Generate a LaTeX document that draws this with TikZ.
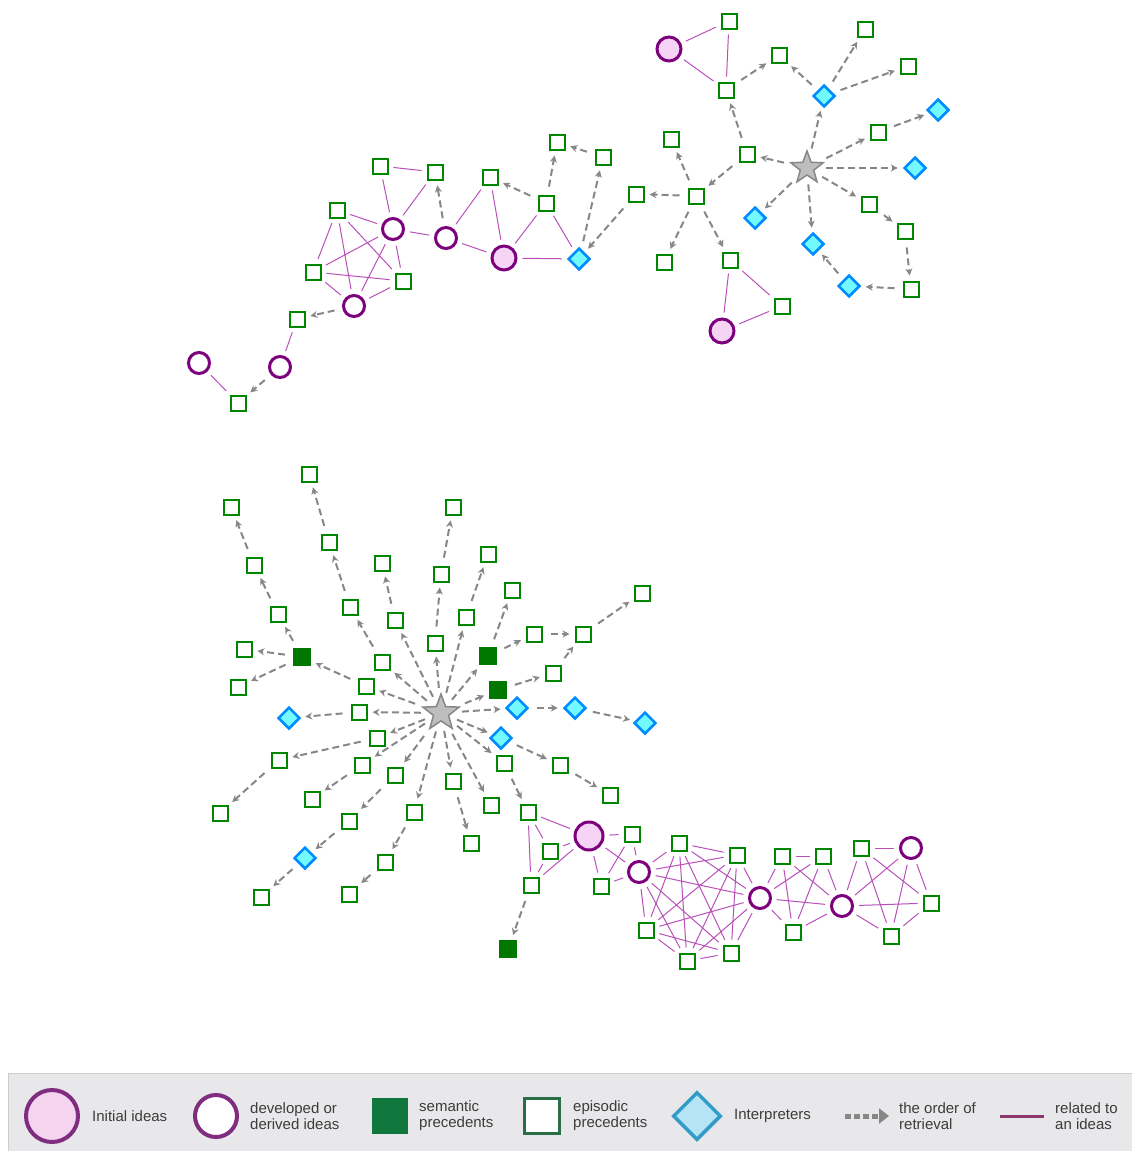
\documentclass[tikz,border=0pt]{standalone}
\usepackage{fontspec}
\setmainfont{Liberation Sans}
\usetikzlibrary{arrows.meta, shapes.geometric}

\definecolor{epigreen}{RGB}{0,135,0}
\definecolor{semgreen}{RGB}{0,120,0}
\definecolor{ideapurple}{RGB}{125,0,125}
\definecolor{initpink}{RGB}{245,212,245}
\definecolor{relpurple}{RGB}{185,80,185}
\definecolor{interpcyan}{RGB}{115,250,255}
\definecolor{interpblue}{RGB}{0,140,255}
\definecolor{retrgrey}{RGB}{135,135,135}
\definecolor{starfill}{RGB}{190,190,190}
\definecolor{stargrey}{RGB}{135,135,135}
% legend colours
\definecolor{lgbg}{RGB}{232,232,234}
\definecolor{lgborder}{RGB}{205,205,205}
\definecolor{lgtext}{RGB}{60,60,60}
\definecolor{lgpurple}{RGB}{128,45,128}
\definecolor{lgpink}{RGB}{244,212,238}
\definecolor{lgsem}{RGB}{16,120,60}
\definecolor{lgepi}{RGB}{40,110,70}
\definecolor{lgcyan}{RGB}{180,228,246}
\definecolor{lgblue}{RGB}{50,155,200}
\definecolor{lgrel}{RGB}{140,55,110}

\begin{document}
\begin{tikzpicture}[x=1pt, y=-1pt,
  episodic/.style={draw=epigreen, line width=2pt, fill=white, minimum size=15pt, inner sep=0pt},
  semantic/.style={fill=semgreen, minimum size=18pt, inner sep=0pt},
  initial/.style={circle, draw=ideapurple, line width=3pt, fill=initpink, minimum size=24pt, inner sep=0pt},
  derived/.style={circle, draw=ideapurple, line width=3pt, fill=white, minimum size=21pt, inner sep=0pt},
  interp/.style={diamond, draw=interpblue, line width=2.5pt, fill=interpcyan, minimum size=22pt, inner sep=0pt},
  cue/.style={star, star points=5, star point ratio=2.4, draw=stargrey, line width=1.5pt, fill=starfill, minimum size=34pt, inner sep=0pt},
  retrieval/.style={draw=retrgrey, line width=2pt, dash pattern=on 7pt off 4pt, -{Stealth[length=7pt,width=7pt]}, shorten <=8pt, shorten >=5pt},
  relation/.style={draw=relpurple, line width=1pt, shorten <=5pt, shorten >=5pt},
  legendtext/.style={anchor=west, align=left, inner sep=0pt, text=lgtext, font=\fontsize{15}{16}\selectfont}]
  \useasboundingbox (0,0) rectangle (1132,1151);

  % Upper map: ideas
  \node[derived] (d1) at (393,229) {};
  \node[derived] (d2) at (446,238) {};
  \node[derived] (d3) at (354,306) {};
  \node[derived] (d4) at (280,367) {};
  \node[derived] (d5) at (199,363) {};
  \node[initial] (i1) at (504,258) {};
  \node[initial] (i2) at (669,49) {};
  \node[initial] (i3) at (722,331) {};
  % Upper map: interpreters and cue
  \node[interp] (p1) at (579,259) {};
  \node[interp] (p2) at (824,96) {};
  \node[interp] (p3) at (938,110) {};
  \node[interp] (p4) at (915,168) {};
  \node[interp] (p5) at (755,218) {};
  \node[interp] (p6) at (813,244) {};
  \node[interp] (p7) at (849,286) {};
  \node[cue] (s1) at (807,168) {};
  % Upper map: episodic precedents
  \node[episodic] (e1) at (380,166) {};
  \node[episodic] (e2) at (435,172) {};
  \node[episodic] (e3) at (337,210) {};
  \node[episodic] (e4) at (490,177) {};
  \node[episodic] (e5) at (546,203) {};
  \node[episodic] (e6) at (557,142) {};
  \node[episodic] (e7) at (603,157) {};
  \node[episodic] (e8) at (313,272) {};
  \node[episodic] (e9) at (403,281) {};
  \node[episodic] (e10) at (297,319) {};
  \node[episodic] (e11) at (238,403) {};
  \node[episodic] (e12) at (729,21) {};
  \node[episodic] (e13) at (726,90) {};
  \node[episodic] (e14) at (779,55) {};
  \node[episodic] (e15) at (865,29) {};
  \node[episodic] (e16) at (908,66) {};
  \node[episodic] (e17) at (878,132) {};
  \node[episodic] (e18) at (747,154) {};
  \node[episodic] (e19) at (671,139) {};
  \node[episodic] (e20) at (696,196) {};
  \node[episodic] (e21) at (636,194) {};
  \node[episodic] (e22) at (869,204) {};
  \node[episodic] (e23) at (905,231) {};
  \node[episodic] (e24) at (911,289) {};
  \node[episodic] (e25) at (664,262) {};
  \node[episodic] (e26) at (730,260) {};
  \node[episodic] (e27) at (782,306) {};

  % Upper map: links
  \foreach \a/\b in {e1/e2, e1/d1, e2/d1, e3/d1, d1/d2, d2/e4, d2/i1, e4/i1, i1/p1, i1/e5,
      e5/p1, e3/e8, e3/d3, e3/e9, e8/d1, e8/e9, e8/d3, d1/d3, d1/e9, e9/d3, d4/e10, d5/e11,
      i2/e12, i2/e13, e12/e13, e26/e27, e26/i3, i3/e27}
    \draw[relation] (\a) -- (\b);
  \foreach \a/\b in {d2/e2, e5/e4, e5/e6, e7/e6, p1/e7, e21/p1, d3/e10, d4/e11, e13/e14,
      p2/e14, p2/e15, p2/e16, s1/p2, s1/e17, e17/p3, s1/p4, s1/e18, e18/e13, e18/e20,
      e20/e19, e20/e21, e20/e25, e20/e26, s1/p5, s1/p6, s1/e22, e22/e23, e23/e24, e24/p7, p7/p6}
    \draw[retrieval] (\a) -- (\b);

  % Lower map: cue, ideas, interpreters, semantic precedents
  \node[cue, minimum size=38pt] (s2) at (441,713) {};
  \node[initial, minimum size=28pt] (i4) at (589,836) {};
  \node[derived] (d6) at (639,872) {};
  \node[derived] (d7) at (760,898) {};
  \node[derived] (d8) at (842,906) {};
  \node[derived] (d9) at (911,848) {};
  \node[interp] (p8) at (517,708) {};
  \node[interp] (p9) at (575,708) {};
  \node[interp] (p10) at (645,723) {};
  \node[interp] (p11) at (501,738) {};
  \node[interp] (p12) at (289,718) {};
  \node[interp] (p13) at (305,858) {};
  \node[semantic] (m1) at (302,657) {};
  \node[semantic] (m2) at (488,656) {};
  \node[semantic] (m3) at (498,690) {};
  \node[semantic] (m4) at (508,949) {};
  % Lower map: episodic precedents
  \node[episodic] (b1) at (309,474) {};
  \node[episodic] (b2) at (231,507) {};
  \node[episodic] (b3) at (453,507) {};
  \node[episodic] (b4) at (329,542) {};
  \node[episodic] (b5) at (254,565) {};
  \node[episodic] (b6) at (382,563) {};
  \node[episodic] (b7) at (441,574) {};
  \node[episodic] (b8) at (488,554) {};
  \node[episodic] (b9) at (350,607) {};
  \node[episodic] (b10) at (395,620) {};
  \node[episodic] (b11) at (466,617) {};
  \node[episodic] (b12) at (278,614) {};
  \node[episodic] (b13) at (435,643) {};
  \node[episodic] (b14) at (382,662) {};
  \node[episodic] (b15) at (244,649) {};
  \node[episodic] (b16) at (238,687) {};
  \node[episodic] (b17) at (366,686) {};
  \node[episodic] (b18) at (512,590) {};
  \node[episodic] (b19) at (534,634) {};
  \node[episodic] (b20) at (583,634) {};
  \node[episodic] (b21) at (642,593) {};
  \node[episodic] (b22) at (553,673) {};
  \node[episodic] (b23) at (504,763) {};
  \node[episodic] (b24) at (560,765) {};
  \node[episodic] (b25) at (610,795) {};
  \node[episodic] (b26) at (359,712) {};
  \node[episodic] (b27) at (377,738) {};
  \node[episodic] (b28) at (279,760) {};
  \node[episodic] (b29) at (362,765) {};
  \node[episodic] (b30) at (395,775) {};
  \node[episodic] (b31) at (220,813) {};
  \node[episodic] (b32) at (312,799) {};
  \node[episodic] (b33) at (453,781) {};
  \node[episodic] (b34) at (349,821) {};
  \node[episodic] (b35) at (414,812) {};
  \node[episodic] (b36) at (491,805) {};
  \node[episodic] (b37) at (471,843) {};
  \node[episodic] (b38) at (385,862) {};
  \node[episodic] (b39) at (261,897) {};
  \node[episodic] (b40) at (349,894) {};
  \node[episodic] (b41) at (528,812) {};
  \node[episodic] (b42) at (550,851) {};
  \node[episodic] (b43) at (531,885) {};
  \node[episodic] (b44) at (632,834) {};
  \node[episodic] (b45) at (601,886) {};
  \node[episodic] (b46) at (679,843) {};
  \node[episodic] (b47) at (737,855) {};
  \node[episodic] (b48) at (646,930) {};
  \node[episodic] (b49) at (687,961) {};
  \node[episodic] (b50) at (731,953) {};
  \node[episodic] (b51) at (782,856) {};
  \node[episodic] (b52) at (823,856) {};
  \node[episodic] (b53) at (793,932) {};
  \node[episodic] (b54) at (861,848) {};
  \node[episodic] (b55) at (931,903) {};
  \node[episodic] (b56) at (891,936) {};

  % Lower map: order of retrieval
  \foreach \a/\b in {b5/b2, b12/b5, m1/b12, m1/b15, m1/b16, b17/m1, b14/b9, b9/b4, b4/b1,
      s2/b14, s2/b17, b10/b6, s2/b10, s2/b13, b13/b7, b7/b3, s2/b11, b11/b8, s2/m2, s2/m3,
      m2/b18, m2/b19, b19/b20, b20/b21, m3/b22, b22/b20, s2/p8, p8/p9, p9/p10, s2/p11,
      s2/b23, p11/b24, b24/b25, s2/b26, b26/p12, s2/b27, b27/b28, b28/b31, s2/b29, b29/b32,
      s2/b30, b30/b34, b34/p13, p13/b39, s2/b35, b35/b38, b38/b40, s2/b33, b33/b37,
      s2/b36, b23/b41, b43/m4}
    \draw[retrieval] (\a) -- (\b);
  % Lower map: related ideas
  \foreach \a/\b in {b41/i4, b41/b42, b41/b43, b42/i4, b43/b42, b43/i4, i4/b44, i4/b45,
      i4/d6, b44/b45, b44/d6, b45/d6,
      d6/b46, d6/b47, d6/b48, d6/b49, d6/b50, d6/d7, b46/b47, b46/b48, b46/b49, b46/b50,
      b46/d7, b47/b48, b47/b49, b47/b50, b47/d7, b48/b49, b48/b50, b48/d7, b49/b50,
      b49/d7, b50/d7,
      d7/b51, d7/b52, d7/b53, d7/d8, b51/b52, b51/b53, b51/d8, b52/b53, b52/d8, b53/d8,
      d8/b54, d8/d9, d8/b55, d8/b56, b54/d9, b54/b55, b54/b56, d9/b55, d9/b56, b55/b56}
    \draw[relation] (\a) -- (\b);

  % Legend
  \fill[lgbg] (8,1073) rectangle (1132,1151);
  \draw[lgborder] (8,1151) -- (8,1073) -- (1132,1073);
  \node[circle, draw=lgpurple, line width=4pt, fill=lgpink, minimum size=52pt] (lginit) at (52,1116) {};
  \node[legendtext] (lgtinit) at (92,1116) {Initial ideas};
  \node[circle, draw=lgpurple, line width=4pt, fill=white, minimum size=42pt] (lgdev) at (216,1116) {};
  \node[legendtext] (lgtdev) at (250,1116) {developed or\\derived ideas};
  \node[fill=lgsem, minimum size=36pt, inner sep=0pt] (lgsem) at (390,1116) {};
  \node[legendtext] (lgtsem) at (419,1116) {semantic\\precedents};
  \node[draw=lgepi, line width=3pt, fill=white, minimum size=35pt, inner sep=0pt] (lgepi) at (542,1116) {};
  \node[legendtext] (lgtepi) at (573,1116) {episodic\\precedents};
  \node[diamond, draw=lgblue, line width=3.5pt, fill=lgcyan, minimum size=48pt, inner sep=0pt] (lgint) at (697,1116) {};
  \node[legendtext] (lgtint) at (734,1116) {Interpreters};
  \coordinate (lgret0) at (845,1116);
  \coordinate (lgret1) at (889,1116);
  \draw[retrgrey, line width=5pt, dash pattern=on 6pt off 3pt, -{Triangle[length=10pt,width=15pt]}] (lgret0) -- (lgret1);
  \node[legendtext] (lgtret) at (899,1116) {the order of\\retrieval};
  \coordinate (lgrel0) at (1000,1116);
  \coordinate (lgrel1) at (1044,1116);
  \draw[lgrel, line width=3pt] (lgrel0) -- (lgrel1);
  \node[legendtext] (lgtrel) at (1055,1116) {related to\\an ideas};
\end{tikzpicture}
\end{document}
